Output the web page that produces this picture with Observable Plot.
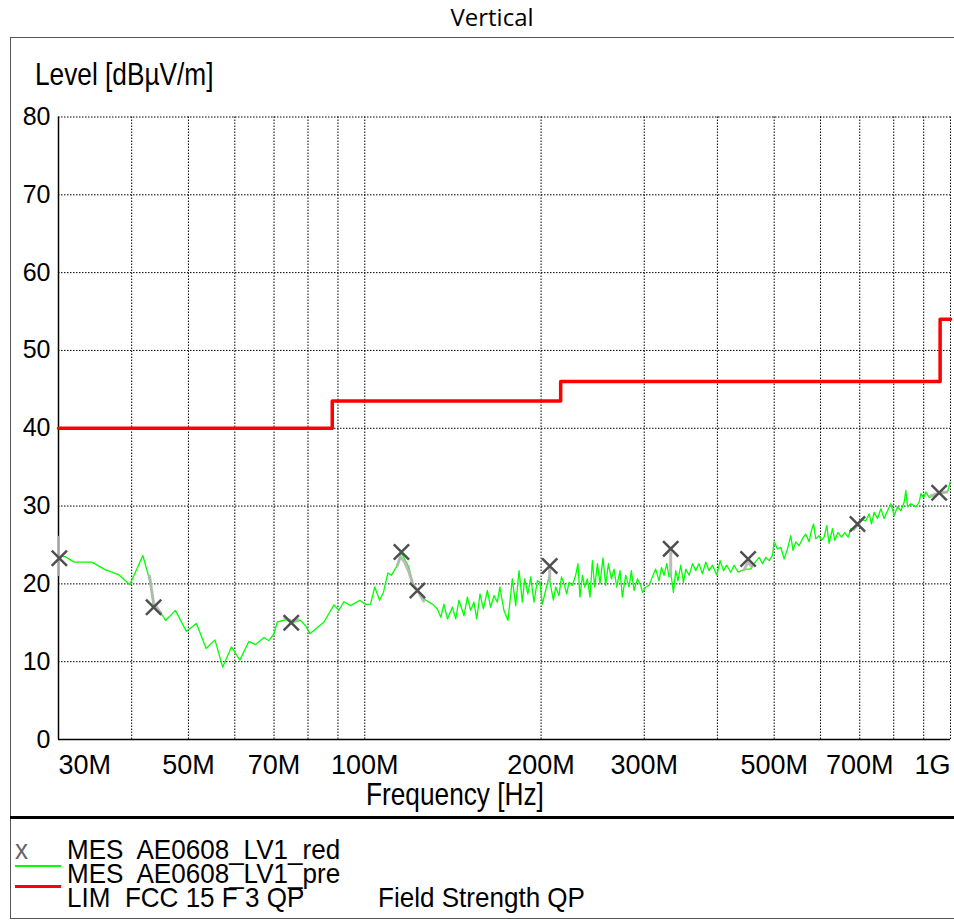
<!DOCTYPE html>
<html><head><meta charset="utf-8">
<script src="https://cdn.jsdelivr.net/npm/d3@7"></script>
<script src="https://cdn.jsdelivr.net/npm/@observablehq/plot@0.6"></script>
<style>
body{margin:0;background:#fff;width:954px;height:920px;overflow:hidden;position:relative;}
#title{position:absolute;left:392px;width:200px;top:0px;text-align:center;font-family:"Open Sans",sans-serif;font-size:24px;color:#000;line-height:1.4}
#frame{position:absolute;left:10px;top:37px;width:960px;height:882px;border:1.5px solid #555;box-sizing:border-box}
#sep{position:absolute;left:10px;top:816px;width:944px;height:3px;background:#000}
#chart{position:absolute;left:0;top:0}
.nw{position:absolute;white-space:pre;font-family:"Liberation Sans",Arial,sans-serif;font-size:32px;line-height:24px;height:24px;color:#000;transform:scaleX(0.82);transform-origin:0 0}
.lg{position:absolute;white-space:pre;font-family:"Liberation Sans",Arial,sans-serif;font-size:28px;line-height:22px;height:22px;color:#000;transform:scaleX(0.93);transform-origin:0 0}
.sw{position:absolute;height:0}
</style></head>
<body>
<div id="frame"></div>
<div id="sep"></div>
<div id="title">Vertical</div>
<div id="chart"></div>
<div class="nw" style="left:35px;top:62px">Level [dBµV/m]</div>
<div class="nw" style="left:366px;top:782px">Frequency [Hz]</div>
<div class="lg" style="left:15px;top:839px;color:#666">x</div>
<div class="lg" style="left:67px;top:839px">MES  AE0608_LV1_red</div>
<div class="sw" style="left:15px;top:865px;width:46px;border-top:2px solid #00ff00"></div>
<div class="lg" style="left:67px;top:863px">MES  AE0608_LV1_pre</div>
<div class="sw" style="left:15px;top:885px;width:46px;border-top:3px solid #ff0000"></div>
<div class="lg" style="left:67px;top:887px">LIM  FCC 15 F 3 QP</div>
<div class="lg" style="left:378px;top:887px">Field Strength QP</div>
<script>
// ---- data (frequencies in MHz, levels in dBµV/m) ----
const greenFreq = [30.2,30.8,31.9,34.2,36.1,38.0,39.7,41.8,43.1,43.6,45.2,45.7,47.5,49.6,51.6,53.6,55.5,57.2,59.2,61.2,63.4,65.1,67.3,68.6,70.0,70.9,73.5,74.9,77.7,79.2,80.6,85.2,88.6,90.3,92.1,94.6,98.1,100.3,102.3,104.0,106.0,107.6,109.5,111.0,113.7,115.5,119.0,120.6,123.0,127.1,130.4,133.0,134.8,136.5,138.4,141.1,143.0,144.8,147.7,149.7,151.6,153.6,155.3,157.3,159.4,161.9,164.0,166.2,168.4,170.1,172.8,175.6,178.6,181.0,183.4,185.8,187.5,189.9,192.0,194.5,197.1,199.1,201.0,203.6,206.3,209.9,211.8,214.6,216.7,218.9,221.2,223.2,226.2,229.1,231.2,233.0,235.3,237.4,239.9,242.4,244.7,246.9,249.6,252.1,255.1,257.8,260.6,263.7,266.4,269.2,272.8,275.3,278.9,282.6,285.2,288.2,292.1,295.9,297.9,301.8,305.7,309.8,313.8,318.0,321.0,324.3,327.8,330.7,332.9,336.5,339.5,342.6,346.3,350.0,353.3,357.9,362.7,367.3,372.1,377.1,382.1,387.1,392.4,399.1,404.2,409.6,414.9,421.5,427.1,433.9,439.8,447.3,456.0,461.9,471.2,477.6,483.8,490.3,496.7,499.9,506.6,513.2,520.0,526.9,533.7,538.5,544.3,551.4,558.8,566.1,573.5,579.0,583.6,588.8,596.5,602.2,608.4,614.9,620.5,628.8,634.6,642.8,651.5,660.1,668.8,675.9,684.0,693.7,705.0,716.8,726.3,733.0,740.6,750.6,760.3,770.3,780.8,790.9,801.3,812.1,822.8,833.4,839.0,844.6,855.8,872.8,884.2,890.2,899.8,907.9,919.6,935.0,956.4,988.5,998.7];
const greenLevel = [23.5,23.5,22.8,22.8,21.8,21.2,19.9,23.65,20.0,17.0,15.9,15.3,16.6,13.9,14.9,11.7,12.8,9.3,11.9,10.2,12.6,12.2,13.1,12.7,13.6,15.1,15.4,15.0,15.3,14.65,13.6,15.1,17.3,16.6,17.7,17.2,17.9,17.35,17.4,19.6,17.9,18.9,21.4,21.1,22.4,24.0,22.1,20.2,19.2,17.9,17.4,16.8,15.7,17.4,15.5,17.0,15.5,17.9,15.9,18.3,16.6,17.65,15.5,18.7,16.8,19.15,17.0,18.5,17.65,19.6,16.6,15.3,20.65,17.2,21.7,17.65,20.65,18.7,20.9,17.65,20.4,20.2,17.4,19.15,20.9,17.9,19.6,18.5,20.9,20.0,18.7,20.2,19.8,21.1,22.6,18.3,21.1,19.6,20.65,18.3,23.0,19.6,22.6,20.0,23.35,19.8,22.6,20.65,21.9,19.6,21.7,18.3,21.1,19.6,21.7,19.15,20.65,19.8,18.9,19.6,19.8,20.9,21.9,20.4,22.1,21.1,22.6,20.9,21.5,18.9,21.7,20.4,22.4,20.2,21.9,21.1,22.6,21.7,22.6,21.3,22.8,21.7,22.4,21.1,23.0,21.7,22.4,21.5,22.4,21.5,21.7,21.9,21.9,22.6,23.4,22.6,23.4,23.0,23.65,25.4,24.5,24.7,23.2,24.5,26.2,24.3,25.4,24.9,25.8,26.4,25.4,26.9,27.7,25.8,26.2,25.6,26.0,27.5,25.2,27.1,25.6,26.6,26.0,26.6,26.0,27.1,27.0,27.5,28.3,28.1,29.0,27.7,29.2,28.4,29.65,28.4,29.4,30.3,28.8,29.9,29.4,30.5,32.0,29.9,30.3,29.9,30.5,31.6,31.1,31.8,31.1,31.3,31.6,31.8,33.1];

const limitFreq = [30, 88, 216, 960, 1000];
const limitLevel = [40, 43.5, 46, 54, 54];

const markerFreq = [30.1, 43.6, 74.9, 115.5, 123.0, 206.9, 332.9, 451.3, 693.7, 956.4];
const markerLevel = [23.3, 17.0, 15.0, 24.1, 19.15, 22.3, 24.5, 23.2, 27.7, 31.7];

// grey re-measured trace pieces around the markers
const greyFreq  = [30.0,30.0, 42.9,43.6,44.9, 73.0,74.9,77.0, 113.7,115.0,117.0,119.0,121.0,123.0,126.0, 206.9,206.9, 332.9,332.9, 444,451.3,458, 684,693.7,705, 925,956,985];
const greyLevel = [21.2,26.0, 21.0,17.5,16.2, 15.6,15.2,15.4, 22.4,23.5,22.8,21.5,19.8,19.2,17.8, 20.5,22.0, 21.0,24.0, 21.8,22.8,22.2, 27.0,27.6,28.2, 31.3,31.7,31.8];
const greyGroup = [1,1, 2,2,2, 3,3,3, 4,4,4,4,4,4,4, 5,5, 6,6, 7,7,7, 8,8,8, 9,9,9];

const xTickFreq  = [30, 50, 70, 100, 200, 300, 500, 700, 1000];
const xTickLabel = ["30M","50M","70M","100M","200M","300M","500M","700M","1G"];
const xGrid = [40,50,60,70,80,90,100,200,300,400,500,600,700,800,900,1000];
const yTicks = [0,10,20,30,40,50,60,70,80];
const yGrid = [10,20,30,40,50,60,70,80];

// ---- build ----
const green = greenFreq.map((f,i)=>({f, v:greenLevel[i]}));
const limit = limitFreq.map((f,i)=>({f, v:limitLevel[i]}));
const markers = markerFreq.map((f,i)=>({f, v:markerLevel[i]}));
const grey = greyFreq.map((f,i)=>({f, v:greyLevel[i], g:greyGroup[i]}));
const xt = xTickFreq.map((f,i)=>({f, t:xTickLabel[i], i}));
const lab = {x: "f", text: "t", frameAnchor: "bottom", dy: 34, lineAnchor: "bottom", fontSize: 27, fontFamily: "Liberation Sans, Arial, sans-serif", ariaLabel: "xlab"};

const chart = Plot.plot({
  width: 954, height: 818,
  marginLeft: 58, marginRight: 4, marginTop: 116.5, marginBottom: 79,
  x: {type: "log", domain: [30, 1000], axis: null},
  y: {domain: [0, 80], axis: null},
  style: {background: "transparent", overflow: "visible"},
  marks: [
    Plot.gridX(xGrid, {stroke: "#000", strokeOpacity: 1, strokeWidth: 1, strokeDasharray: "1.5,1.5"}),
    Plot.gridY(yGrid, {stroke: "#000", strokeOpacity: 1, strokeWidth: 1, strokeDasharray: "1.5,1.5"}),
    Plot.ruleX([30], {stroke: "#000", strokeWidth: 1.5}),
    Plot.ruleY([0], {stroke: "#000", strokeWidth: 1.5}),
    Plot.axisY(yTicks, {anchor: "left", tickSize: 0, tickPadding: 8, fontSize: 25, fontFamily: "Liberation Sans, Arial, sans-serif", label: null}),
    Plot.text(xt.filter(d => d.i === 0), {...lab, textAnchor: "start"}),
    Plot.text(xt.filter(d => d.i > 0 && d.i < xt.length - 1), {...lab, textAnchor: "middle"}),
    Plot.text(xt.filter(d => d.i === xt.length - 1), {...lab, textAnchor: "end"}),
    Plot.line(limit, {x: "f", y: "v", curve: "step-after", stroke: "#ff0000", strokeWidth: 3.5}),
    Plot.line(green, {x: "f", y: "v", stroke: "#00ff00", strokeWidth: 1.3}),
    Plot.line(grey, {x: "f", y: "v", z: "g", stroke: "#b4b4b4", strokeWidth: 3, strokeOpacity: 0.9}),
    Plot.dot(markers, {x: "f", y: "v", symbol: "times", r: 7, stroke: "#505050", strokeWidth: 2.5})
  ]
});
// narrow (condensed) look for the frequency tick labels
chart.querySelectorAll('g[aria-label="xlab"] text').forEach(t => {
  const tr = t.getAttribute("transform") || "";
  const x = t.getAttribute("x"), y = t.getAttribute("y");
  if (x !== null || y !== null) {
    t.removeAttribute("x"); t.removeAttribute("y");
    t.setAttribute("transform", `${tr} translate(${x || 0},${y || 0}) scale(0.8,1)`);
  } else {
    t.setAttribute("transform", `${tr} scale(0.8,1)`);
  }
});
document.getElementById("chart").appendChild(chart);
</script>
</body></html>
